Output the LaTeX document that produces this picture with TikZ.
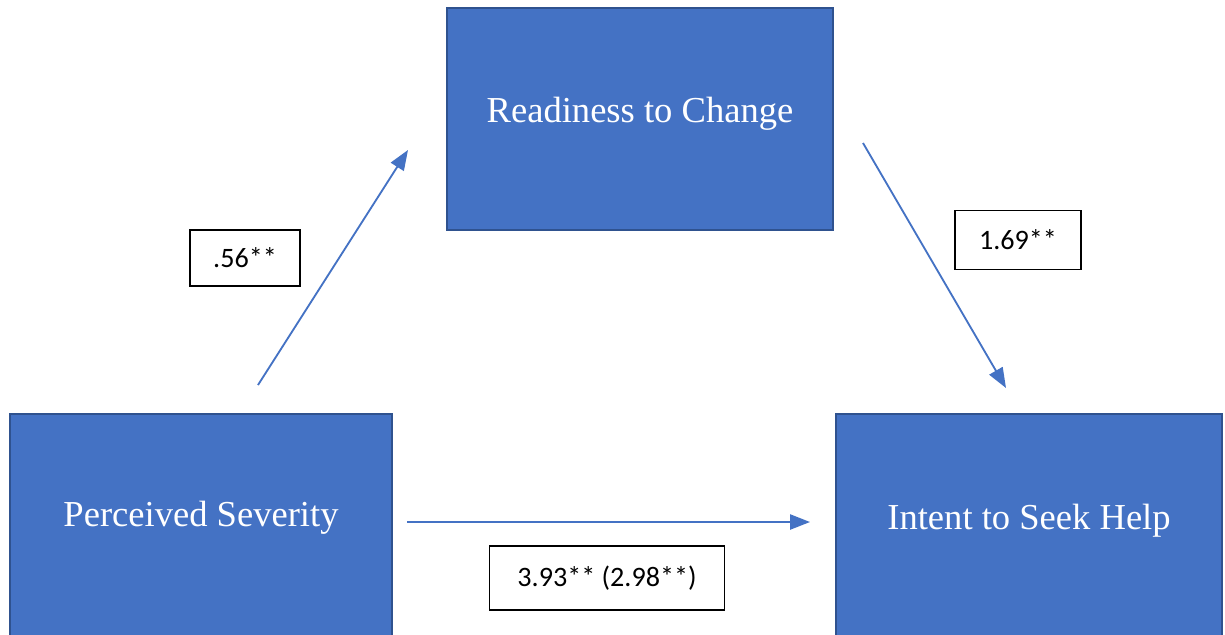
\documentclass[tikz,border=0pt]{standalone}
\usepackage{fontspec}
\setmainfont{Liberation Serif}
\newfontfamily\coeffont{Carlito}
\usetikzlibrary{arrows.meta,positioning}
\definecolor{boxblue}{HTML}{4472C4}
\definecolor{boxedge}{HTML}{2F528F}
\tikzset{varbox/.style={rectangle,draw=boxedge,line width=1.2pt,fill=boxblue,minimum width=9.65cm},
  vartext/.style={text=white,font=\fontsize{26}{30}\selectfont},
  coef/.style={rectangle,draw=black,line width=0.9pt,fill=white,font=\coeffont\fontsize{20}{24}\selectfont},
  effect/.style={->,draw=boxblue,line width=1.3pt}}

\begin{document}
\begin{tikzpicture}[x=0.025cm,y=-0.025cm,>={Triangle[length=0.5cm,width=0.38cm]}]
    \path[use as bounding box,clip] (0,0) rectangle (1225,634);
    \fill[white] (0,0) rectangle (1225,634);

    \node[varbox,minimum height=5.55cm,
          label={[vartext,yshift=0.12cm]center:Readiness to Change}] (ready) at (640,119) {};
    \node[varbox,minimum width=9.55cm,minimum height=6.15cm,
          label={[vartext,yshift=0.48cm]center:Perceived Severity}] (sev) at (201,537) {};
    \node[varbox,minimum height=6.15cm,
          label={[vartext,yshift=0.4cm]center:Intent to Seek Help}] (help) at (1029,537) {};

    \node[coef,minimum width=2.75cm,minimum height=1.4cm] (ca) at (245,258) {.56**};
    \node[coef,minimum width=3.15cm,minimum height=1.475cm] (cb) at (1018,240) {1.69**};
    \node[coef,minimum width=5.875cm,minimum height=1.6cm] (cc) at (607,578) {3.93** (2.98**)};

    \coordinate (a1) at (258,385);
    \coordinate (a2) at (408,150);
    \coordinate (b1) at (863,143);
    \coordinate (b2) at (1006,388);
    \coordinate (c1) at (407,522);
    \coordinate (c2) at (810,522);

    \draw [effect] (a1) -- (a2);
    \draw [effect] (b1) -- (b2);
    \draw [effect] (c1) -- (c2);
\end{tikzpicture}
\end{document}
